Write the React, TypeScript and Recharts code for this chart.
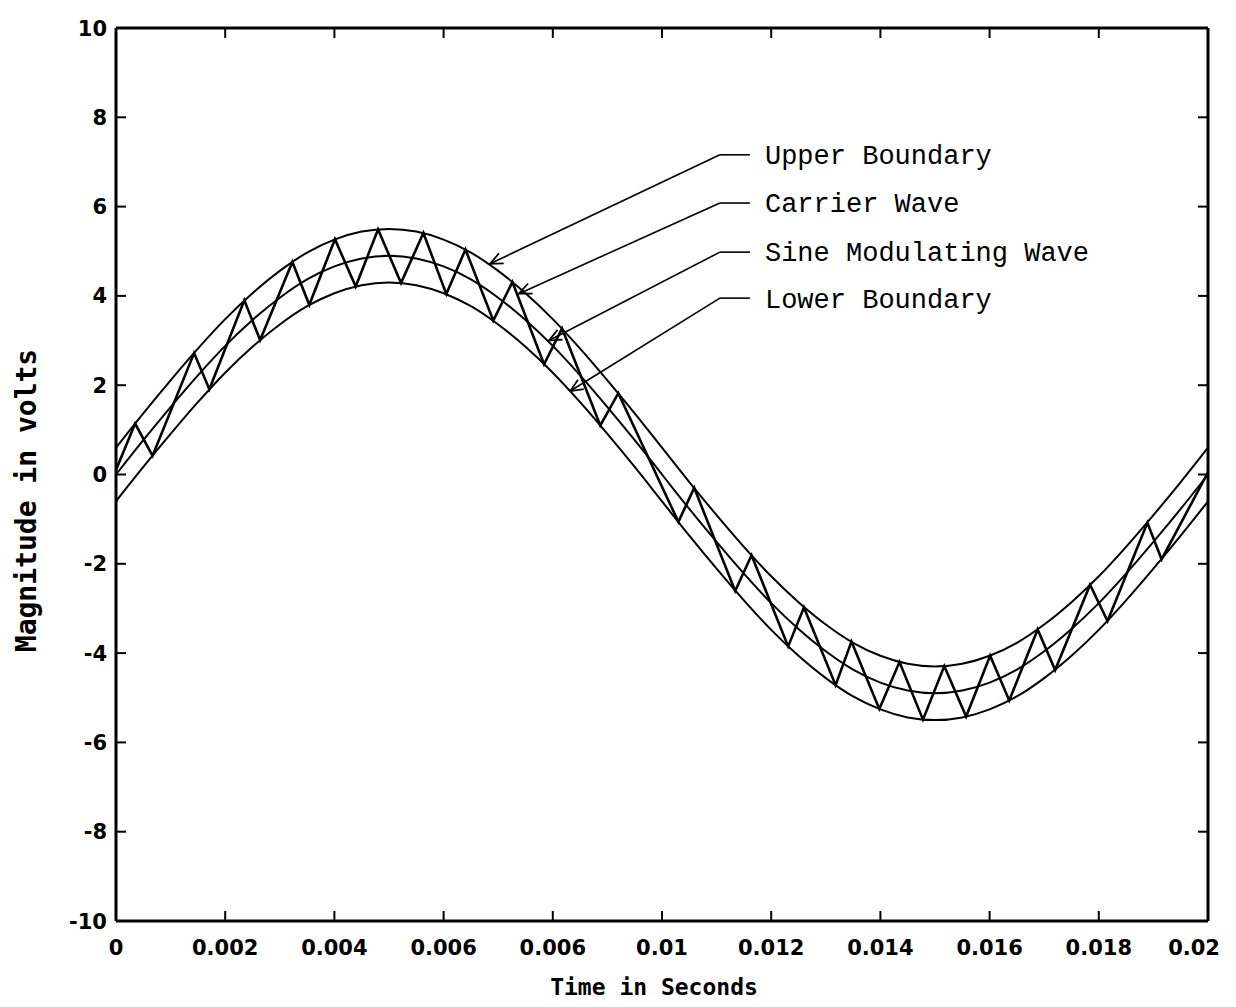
import { LineChart, Line, XAxis, YAxis, ReferenceLine, ReferenceDot } from 'recharts'

// sample times for the smooth curves (s)
const timeSteps = [
    0, 0.0005, 0.001, 0.0015, 0.002, 0.0025, 0.003, 0.0035, 0.004, 0.0045,
    0.005, 0.0055, 0.006, 0.0065, 0.007, 0.0075, 0.008, 0.0085, 0.009, 0.0095,
    0.01, 0.0105, 0.011, 0.0115, 0.012, 0.0125, 0.013, 0.0135, 0.014, 0.0145,
    0.015, 0.0155, 0.016, 0.0165, 0.017, 0.0175, 0.018, 0.0185, 0.019, 0.0195, 0.02,
]

// values (volts)
const sineWave = [
    0, 0.77, 1.51, 2.22, 2.88, 3.46, 3.96, 4.37, 4.66, 4.84,
    4.9, 4.84, 4.66, 4.37, 3.96, 3.46, 2.88, 2.22, 1.51, 0.77,
    0, -0.77, -1.51, -2.22, -2.88, -3.46, -3.96, -4.37, -4.66, -4.84,
    -4.9, -4.84, -4.66, -4.37, -3.96, -3.46, -2.88, -2.22, -1.51, -0.77, 0,
]
const upperBoundary = [
    0.6, 1.37, 2.11, 2.82, 3.48, 4.06, 4.56, 4.97, 5.26, 5.44,
    5.5, 5.44, 5.26, 4.97, 4.56, 4.06, 3.48, 2.82, 2.11, 1.37,
    0.6, -0.17, -0.91, -1.62, -2.28, -2.86, -3.36, -3.77, -4.06, -4.24,
    -4.3, -4.24, -4.06, -3.77, -3.36, -2.86, -2.28, -1.62, -0.91, -0.17, 0.6,
]
const lowerBoundary = [
    -0.6, 0.17, 0.91, 1.62, 2.28, 2.86, 3.36, 3.77, 4.06, 4.24,
    4.3, 4.24, 4.06, 3.77, 3.36, 2.86, 2.28, 1.62, 0.91, 0.17,
    -0.6, -1.37, -2.11, -2.82, -3.48, -4.06, -4.56, -4.97, -5.26, -5.44,
    -5.5, -5.44, -5.26, -4.97, -4.56, -4.06, -3.48, -2.82, -2.11, -1.37, -0.6,
]

// carrier wave corners
const carrierTimes = [
    0, 0.00035, 0.00067, 0.00143, 0.00171, 0.00235, 0.00264, 0.00323, 0.00354, 0.00401,
    0.00439, 0.0048, 0.00522, 0.00563, 0.00605, 0.0064, 0.00691, 0.00726, 0.00784, 0.00817,
    0.00887, 0.0092, 0.0103, 0.01059, 0.01134, 0.01164, 0.01231, 0.0126, 0.01318, 0.01347,
    0.01398, 0.01435, 0.01478, 0.01517, 0.01557, 0.01601, 0.01636, 0.01688, 0.0172, 0.01784,
    0.01816, 0.01889, 0.01915, 0.02,
]
const carrierValues = [
    0.1, 1.14, 0.42, 2.72, 1.91, 3.9, 3.01, 4.76, 3.8, 5.27,
    4.21, 5.49, 4.29, 5.41, 4.04, 5.04, 3.45, 4.31, 2.47, 3.27,
    1.1, 1.82, -1.06, -0.3, -2.61, -1.81, -3.85, -2.98, -4.72, -3.74,
    -5.25, -4.2, -5.49, -4.29, -5.42, -4.06, -5.06, -3.47, -4.38, -2.47,
    -3.28, -1.08, -1.9, 0.05,
]

const xTicks = [0, 0.002, 0.004, 0.006, 0.008, 0.01, 0.012, 0.014, 0.016, 0.018, 0.02]
const xTickLabels = ['0', '0.002', '0.004', '0.006', '0.006', '0.01', '0.012', '0.014', '0.016', '0.018', '0.02']
const yTicks = [-10, -8, -6, -4, -2, 0, 2, 4, 6, 8, 10]
const yTickLabels = ['-10', '-8', '-6', '-4', '-2', '0', '2', '4', '6', '8', '10']

// callouts: arrow tip on the curve, elbow, end of the short flat piece, text anchor
const calloutNames = ['Upper Boundary', 'Carrier Wave', 'Sine Modulating Wave', 'Lower Boundary']
const calloutTipT = [0.00685, 0.00738, 0.00793, 0.00832]
const calloutTipV = [4.72, 4.05, 3.0, 1.87]
const calloutElbowT = 0.01106
const calloutFlatEndT = 0.01161
const calloutElbowV = [7.16, 6.08, 4.98, 3.95]
const calloutTextT = 0.011886
const calloutTextV = [6.95, 5.88, 4.78, 3.73]

const toPoints = (ts: number[], vs: number[]) => ts.map((t, i) => ({ t, v: vs[i] }))

const upperData = toPoints(timeSteps, upperBoundary)
const sineData = toPoints(timeSteps, sineWave)
const lowerData = toPoints(timeSteps, lowerBoundary)
const carrierData = toPoints(carrierTimes, carrierValues)

const TICK_FONT = '"DejaVu Sans", sans-serif'
const TITLE_FONT = '"DejaVu Sans Mono", monospace'
const TICK_LEN = 10

const BottomTick = ({ x, y, index }: any) => {
    // last label would run off the page, pull it in like the original
    const last = index === xTickLabels.length - 1
    return (
        <g>
            <line x1={x} y1={y} x2={x} y2={y - TICK_LEN} stroke="#000" strokeWidth={2} />
            <text
                x={last ? x + 12 : x}
                y={y + 34}
                textAnchor={last ? 'end' : 'middle'}
                fontFamily={TICK_FONT}
                fontWeight="bold"
                fontSize={21}
                fill="#000"
            >
                {xTickLabels[index]}
            </text>
        </g>
    )
}

const TopTick = ({ x, y }: any) => (
    <line x1={x} y1={y} x2={x} y2={y + TICK_LEN} stroke="#000" strokeWidth={2} />
)

const LeftTick = ({ x, y, index }: any) => (
    <g>
        <line x1={x} y1={y} x2={x + TICK_LEN} y2={y} stroke="#000" strokeWidth={2} />
        <text x={x - 9} y={y} dy="0.36em" textAnchor="end" fontFamily={TICK_FONT} fontWeight="bold" fontSize={21} fill="#000">
            {yTickLabels[index]}
        </text>
    </g>
)

const RightTick = ({ x, y }: any) => (
    <line x1={x - TICK_LEN} y1={y} x2={x} y2={y} stroke="#000" strokeWidth={2} />
)

const arrowLine = (p: any) => (
    <line x1={p.x1} y1={p.y1} x2={p.x2} y2={p.y2} stroke="#000" strokeWidth={1.6} markerEnd="url(#openArrow)" />
)

const plainLine = (p: any) => (
    <line x1={p.x1} y1={p.y1} x2={p.x2} y2={p.y2} stroke="#000" strokeWidth={1.6} />
)

export default function App() {
    return (
        <div style={{ position: 'relative', background: '#fff' }}>
            <svg width={0} height={0} style={{ position: 'absolute' }}>
                <defs>
                    <marker id="openArrow" viewBox="0 0 12 12" refX={11} refY={6} markerWidth={15} markerHeight={15} markerUnits="userSpaceOnUse" orient="auto">
                        <path d="M1,1.6 L11,6 L1,10.4" fill="none" stroke="#000" strokeWidth={1.4} />
                    </marker>
                </defs>
            </svg>
            <LineChart width={1220} height={1000} margin={{ top: 10, right: 10, bottom: 0, left: 0 }}>
                <XAxis
                    xAxisId="bottom"
                    dataKey="t"
                    type="number"
                    domain={[0, 0.02]}
                    ticks={xTicks}
                    interval={0}
                    height={87}
                    tickSize={0}
                    tickMargin={0}
                    tickLine={false}
                    axisLine={{ stroke: '#000', strokeWidth: 3 }}
                    tick={BottomTick}
                    allowDataOverflow
                    label={{
                        content: (p: any) => (
                            <text
                                x={p.viewBox.x + p.viewBox.width / 2 - 8}
                                y={p.viewBox.y + 74}
                                textAnchor="middle"
                                fontFamily={TITLE_FONT}
                                fontWeight="bold"
                                fontSize={23}
                                fill="#000"
                            >
                                Time in Seconds
                            </text>
                        ),
                    }}
                />
                <XAxis
                    xAxisId="top"
                    orientation="top"
                    dataKey="t"
                    type="number"
                    domain={[0, 0.02]}
                    ticks={xTicks}
                    interval={0}
                    height={10}
                    tickSize={0}
                    tickMargin={0}
                    tickLine={false}
                    axisLine={{ stroke: '#000', strokeWidth: 3 }}
                    tick={TopTick}
                    allowDataOverflow
                />
                <YAxis
                    yAxisId="left"
                    type="number"
                    domain={[-10, 10]}
                    ticks={yTicks}
                    interval={0}
                    width={108}
                    tickSize={0}
                    tickMargin={0}
                    tickLine={false}
                    axisLine={{ stroke: '#000', strokeWidth: 3 }}
                    tick={LeftTick}
                    allowDataOverflow
                    label={{
                        content: (p: any) => {
                            const cx = p.viewBox.x + 18
                            const cy = p.viewBox.y + p.viewBox.height / 2 + 26
                            return (
                                <text
                                    x={cx}
                                    y={cy}
                                    transform={`rotate(-90, ${cx}, ${cy})`}
                                    textAnchor="middle"
                                    dominantBaseline="central"
                                    fontFamily={TITLE_FONT}
                                    fontWeight="bold"
                                    fontSize={28}
                                    fill="#000"
                                >
                                    Magnitude in volts
                                </text>
                            )
                        },
                    }}
                />
                <YAxis
                    yAxisId="right"
                    orientation="right"
                    type="number"
                    domain={[-10, 10]}
                    ticks={yTicks}
                    interval={0}
                    width={10}
                    tickSize={0}
                    tickMargin={0}
                    tickLine={false}
                    axisLine={{ stroke: '#000', strokeWidth: 3 }}
                    tick={RightTick}
                    allowDataOverflow
                />

                <Line xAxisId="bottom" yAxisId="left" data={upperData} dataKey="v" type="monotone" stroke="#000" strokeWidth={2} dot={false} isAnimationActive={false} />
                <Line xAxisId="bottom" yAxisId="left" data={sineData} dataKey="v" type="monotone" stroke="#000" strokeWidth={2} dot={false} isAnimationActive={false} />
                <Line xAxisId="bottom" yAxisId="left" data={lowerData} dataKey="v" type="monotone" stroke="#000" strokeWidth={2} dot={false} isAnimationActive={false} />
                <Line xAxisId="bottom" yAxisId="left" data={carrierData} dataKey="v" type="linear" stroke="#000" strokeWidth={2.6} dot={false} isAnimationActive={false} />

                {calloutNames.map((name, i) => (
                    <ReferenceLine
                        key={`arrow-${name}`}
                        xAxisId="bottom"
                        yAxisId="left"
                        segment={[
                            { x: calloutElbowT, y: calloutElbowV[i] },
                            { x: calloutTipT[i], y: calloutTipV[i] },
                        ]}
                        shape={arrowLine}
                    />
                ))}
                {calloutNames.map((name, i) => (
                    <ReferenceLine
                        key={`flat-${name}`}
                        xAxisId="bottom"
                        yAxisId="left"
                        segment={[
                            { x: calloutElbowT, y: calloutElbowV[i] },
                            { x: calloutFlatEndT, y: calloutElbowV[i] },
                        ]}
                        shape={plainLine}
                    />
                ))}
                {calloutNames.map((name, i) => (
                    <ReferenceDot
                        key={`text-${name}`}
                        xAxisId="bottom"
                        yAxisId="left"
                        x={calloutTextT}
                        y={calloutTextV[i]}
                        r={0}
                        fill="none"
                        stroke="none"
                        label={{
                            content: (p: any) => (
                                <text
                                    x={p.viewBox.x}
                                    y={p.viewBox.y}
                                    fontFamily='"Liberation Mono", monospace'
                                    fontSize={27}
                                    fill="#000"
                                >
                                    {name}
                                </text>
                            ),
                        }}
                    />
                ))}
            </LineChart>
        </div>
    )
}
